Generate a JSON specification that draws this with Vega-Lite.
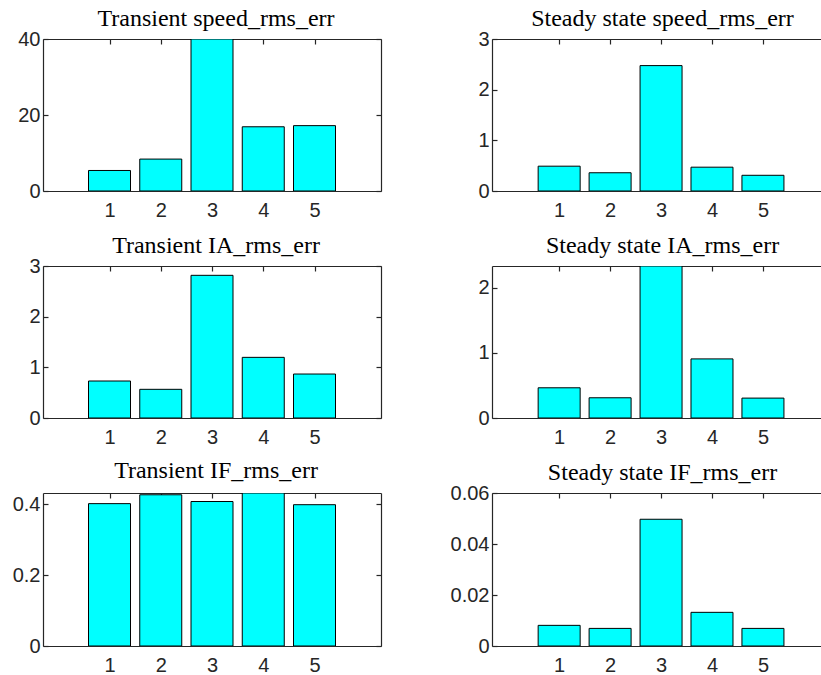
{
  "$schema": "https://vega.github.io/schema/vega-lite/v6.json",
  "background": "white",
  "padding": {"left": 12, "top": 7, "right": 0, "bottom": 0},
  "bounds": "flush",
  "columns": 2,
  "spacing": {"row": 75, "column": 111},
  "config": {
    "view": {"stroke": null},
    "axis": {
      "grid": false,
      "title": null,
      "domainColor": "#262626",
      "tickColor": "#262626",
      "labelColor": "#262626",
      "labelFont": "Liberation Sans",
      "labelFontSize": 20,
      "domainWidth": 1.2,
      "tickWidth": 1.2,
      "tickSize": -5,
      "labelPadding": 8,
      "labelFlush": false,
      "labelOverlap": false
    },
    "axisBottom": {"labelPadding": 14},
    "title": {
      "font": "Liberation Serif",
      "fontSize": 24,
      "fontWeight": "normal",
      "color": "#000000",
      "baseline": "alphabetic",
      "frame": "group",
      "dx": 4,
      "offset": -2
    }
  },
  "concat": [
    {
      "title": "Transient speed_rms_err",
      "width": 338, "height": 152,
      "data": {"values": [{"run": 1, "err": 5.4}, {"run": 2, "err": 8.4}, {"run": 3, "err": 40}, {"run": 4, "err": 16.9}, {"run": 5, "err": 17.2}]},
      "layer": [
        {"mark": {"type": "bar", "width": 42, "fill": "#00ffff", "stroke": "#000000", "strokeWidth": 1, "clip": true},
         "encoding": {
           "x": {"field": "run", "type": "quantitative", "scale": {"domain": [-0.2, 6.2], "nice": false, "zero": false}, "axis": {"orient": "bottom", "values": [1, 2, 3, 4, 5]}},
           "y": {"field": "err", "type": "quantitative", "scale": {"domain": [0, 40], "nice": false}, "axis": {"orient": "left", "values": [0, 20, 40], "format": "~f"}}}},
        {"mark": {"type": "point", "opacity": 0},
         "encoding": {
           "x": {"field": "run", "type": "quantitative", "axis": {"orient": "top", "values": [1, 2, 3, 4, 5], "labels": false}},
           "y": {"field": "err", "type": "quantitative", "axis": {"orient": "right", "values": [0, 20, 40], "labels": false}}}}
      ],
      "resolve": {"axis": {"x": "independent", "y": "independent"}}
    },
    {
      "title": "Steady state speed_rms_err",
      "width": 333, "height": 152,
      "data": {"values": [{"run": 1, "err": 0.49}, {"run": 2, "err": 0.36}, {"run": 3, "err": 2.475}, {"run": 4, "err": 0.47}, {"run": 5, "err": 0.31}]},
      "layer": [
        {"mark": {"type": "bar", "width": 42, "fill": "#00ffff", "stroke": "#000000", "strokeWidth": 1, "clip": true},
         "encoding": {
           "x": {"field": "run", "type": "quantitative", "scale": {"domain": [-0.22, 6.12], "nice": false, "zero": false}, "axis": {"orient": "bottom", "values": [1, 2, 3, 4, 5]}},
           "y": {"field": "err", "type": "quantitative", "scale": {"domain": [0, 3], "nice": false}, "axis": {"orient": "left", "values": [0, 1, 2, 3], "format": "~f"}}}},
        {"mark": {"type": "point", "opacity": 0},
         "encoding": {
           "x": {"field": "run", "type": "quantitative", "axis": {"orient": "top", "values": [1, 2, 3, 4, 5], "labels": false}}}}
      ],
      "resolve": {"axis": {"x": "independent", "y": "independent"}}
    },
    {
      "title": "Transient IA_rms_err",
      "width": 338, "height": 152,
      "data": {"values": [{"run": 1, "err": 0.73}, {"run": 2, "err": 0.566}, {"run": 3, "err": 2.816}, {"run": 4, "err": 1.197}, {"run": 5, "err": 0.868}]},
      "layer": [
        {"mark": {"type": "bar", "width": 42, "fill": "#00ffff", "stroke": "#000000", "strokeWidth": 1, "clip": true},
         "encoding": {
           "x": {"field": "run", "type": "quantitative", "scale": {"domain": [-0.2, 6.2], "nice": false, "zero": false}, "axis": {"orient": "bottom", "values": [1, 2, 3, 4, 5]}},
           "y": {"field": "err", "type": "quantitative", "scale": {"domain": [0, 3], "nice": false}, "axis": {"orient": "left", "values": [0, 1, 2, 3], "format": "~f"}}}},
        {"mark": {"type": "point", "opacity": 0},
         "encoding": {
           "x": {"field": "run", "type": "quantitative", "axis": {"orient": "top", "values": [1, 2, 3, 4, 5], "labels": false}},
           "y": {"field": "err", "type": "quantitative", "axis": {"orient": "right", "values": [0, 1, 2, 3], "labels": false}}}}
      ],
      "resolve": {"axis": {"x": "independent", "y": "independent"}}
    },
    {
      "title": {"text": "Steady state IA_rms_err", "offset": 7},
      "width": 333, "height": 152,
      "data": {"values": [{"run": 1, "err": 0.463}, {"run": 2, "err": 0.31}, {"run": 3, "err": 2.33}, {"run": 4, "err": 0.906}, {"run": 5, "err": 0.305}]},
      "layer": [
        {"mark": {"type": "bar", "width": 42, "fill": "#00ffff", "stroke": "#000000", "strokeWidth": 1, "clip": true},
         "encoding": {
           "x": {"field": "run", "type": "quantitative", "scale": {"domain": [-0.22, 6.12], "nice": false, "zero": false}, "axis": {"orient": "bottom", "values": [1, 2, 3, 4, 5]}},
           "y": {"field": "err", "type": "quantitative", "scale": {"domain": [0, 2.33], "nice": false}, "axis": {"orient": "left", "values": [0, 1, 2], "format": "~f"}}}},
        {"mark": {"type": "point", "opacity": 0},
         "encoding": {
           "x": {"field": "run", "type": "quantitative", "axis": {"orient": "top", "values": [1, 2, 3, 4, 5], "labels": false}}}}
      ],
      "resolve": {"axis": {"x": "independent", "y": "independent"}}
    },
    {
      "title": {"text": "Transient IF_rms_err", "offset": 7},
      "width": 338, "height": 153,
      "data": {"values": [{"run": 1, "err": 0.402}, {"run": 2, "err": 0.427}, {"run": 3, "err": 0.408}, {"run": 4, "err": 0.432}, {"run": 5, "err": 0.399}]},
      "layer": [
        {"mark": {"type": "bar", "width": 42, "fill": "#00ffff", "stroke": "#000000", "strokeWidth": 1, "clip": true},
         "encoding": {
           "x": {"field": "run", "type": "quantitative", "scale": {"domain": [-0.2, 6.2], "nice": false, "zero": false}, "axis": {"orient": "bottom", "values": [1, 2, 3, 4, 5]}},
           "y": {"field": "err", "type": "quantitative", "scale": {"domain": [0, 0.432], "nice": false}, "axis": {"orient": "left", "values": [0, 0.2, 0.4], "format": "~f"}}}},
        {"mark": {"type": "point", "opacity": 0},
         "encoding": {
           "x": {"field": "run", "type": "quantitative", "axis": {"orient": "top", "values": [1, 2, 3, 4, 5], "labels": false}},
           "y": {"field": "err", "type": "quantitative", "axis": {"orient": "right", "values": [0, 0.2, 0.4], "labels": false}}}}
      ],
      "resolve": {"axis": {"x": "independent", "y": "independent"}}
    },
    {
      "title": "Steady state IF_rms_err",
      "width": 333, "height": 153,
      "data": {"values": [{"run": 1, "err": 0.0081}, {"run": 2, "err": 0.0069}, {"run": 3, "err": 0.0497}, {"run": 4, "err": 0.0132}, {"run": 5, "err": 0.0069}]},
      "layer": [
        {"mark": {"type": "bar", "width": 42, "fill": "#00ffff", "stroke": "#000000", "strokeWidth": 1, "clip": true},
         "encoding": {
           "x": {"field": "run", "type": "quantitative", "scale": {"domain": [-0.22, 6.12], "nice": false, "zero": false}, "axis": {"orient": "bottom", "values": [1, 2, 3, 4, 5]}},
           "y": {"field": "err", "type": "quantitative", "scale": {"domain": [0, 0.06], "nice": false}, "axis": {"orient": "left", "values": [0, 0.02, 0.04, 0.06], "format": "~f"}}}},
        {"mark": {"type": "point", "opacity": 0},
         "encoding": {
           "x": {"field": "run", "type": "quantitative", "axis": {"orient": "top", "values": [1, 2, 3, 4, 5], "labels": false}}}}
      ],
      "resolve": {"axis": {"x": "independent", "y": "independent"}}
    }
  ]
}
